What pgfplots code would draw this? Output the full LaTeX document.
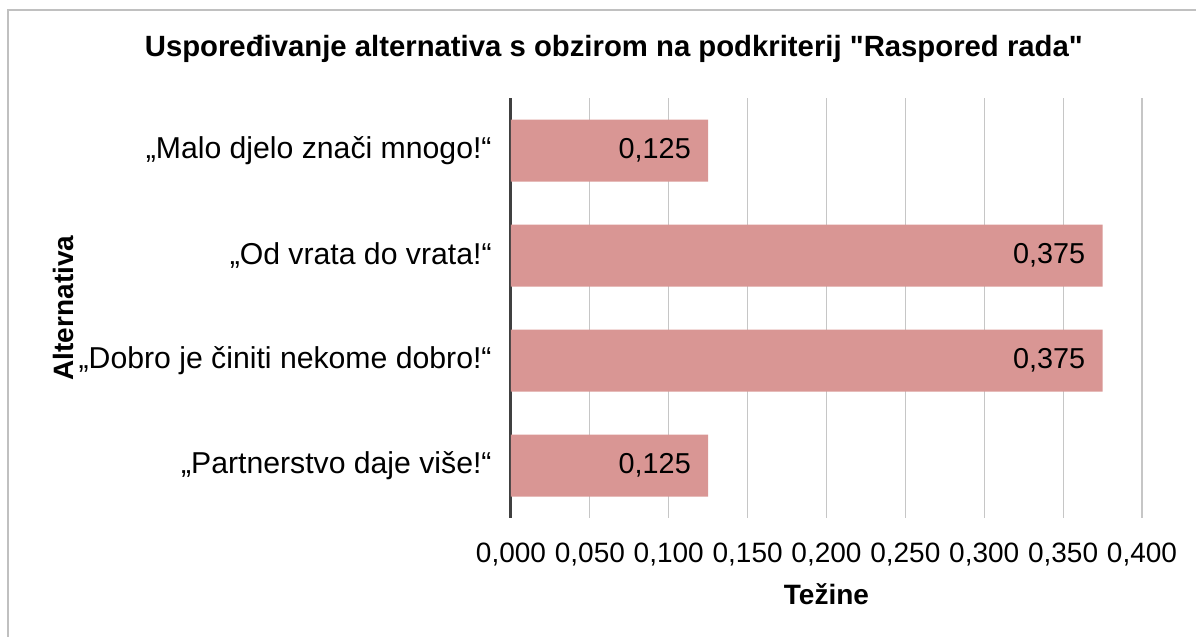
\documentclass[border=0pt]{standalone}
\usepackage{fontspec}
\setmainfont{Liberation Sans}
\usepackage{pgfplots}
\pgfplotsset{compat=1.18}
\definecolor{barred}{HTML}{D99694}
\definecolor{gridgray}{HTML}{C6C6C6}
\definecolor{axisdark}{HTML}{404040}
\definecolor{framegray}{HTML}{C0C0C0}

\begin{document}
\begin{tikzpicture}
\useasboundingbox (-255.5pt,-59.5pt) rectangle (342.5pt,259pt);
\draw[framegray, line width=0.6pt] (-251.5pt,-59.5pt) -- (-251.5pt,254pt) -- (342.5pt,254pt);
\begin{axis}[
    at={(0,0)}, anchor=south west,
    scale only axis,
    width=315.5pt, height=210pt,
    clip=false,
    xbar,
    bar width=31pt,
    xmin=0, xmax=0.4,
    ymin=-0.5, ymax=3.5,
    y dir=reverse,
    ytick={0,1,2,3},
    yticklabels={{„Malo djelo znači mnogo!“},{„Od vrata do vrata!“},{„Dobro je činiti nekome dobro!“},{„Partnerstvo daje više!“}},
    xtick={0,0.05,...,0.4},
    major tick length=0pt,
    axis x line*=bottom, axis y line*=left,
    x axis line style={draw=none},
    y axis line style={draw=axisdark, line width=1.5pt, -},
    xmajorgrids,
    grid style={gridgray, line width=0.6pt},
    font=\fontsize{14}{16}\selectfont,
    /pgf/number format/.cd, fixed, fixed zerofill, precision=3, use comma, assume math mode=true,
    /pgfplots/.cd,
    scaled x ticks=false,
    xticklabel style={anchor=base, inner sep=0pt, yshift=-22pt},
    yticklabel style={anchor=east, inner sep=0pt, xshift=-9.5pt, font=\fontsize{15.1}{17}\selectfont},
    nodes near coords,
    nodes near coords style={anchor=east, inner sep=0pt, xshift=-8.5pt, font=\fontsize{14.4}{16}\selectfont},
    xlabel={\bfseries Težine},
    xlabel style={at={(0.5,-0.207)}, anchor=base, inner sep=0pt, font=\fontsize{14}{16}\selectfont},
    ylabel={\bfseries Alternativa},
    ylabel style={at={(-0.694,0.5)}, anchor=base, inner sep=0pt, rotate=0, font=\fontsize{14}{16}\selectfont},
]
\addplot[fill=barred, draw=none] coordinates {(0.125,0) (0.375,1) (0.375,2) (0.125,3)};
\node[anchor=base, inner sep=0pt, font=\fontsize{14.65}{17}\selectfont\bfseries]
  at (rel axis cs:0.163,1.1) {Uspoređivanje alternativa s obzirom na podkriterij \textquotedbl Raspored rada\textquotedbl};
\end{axis}
\end{tikzpicture}
\end{document}
